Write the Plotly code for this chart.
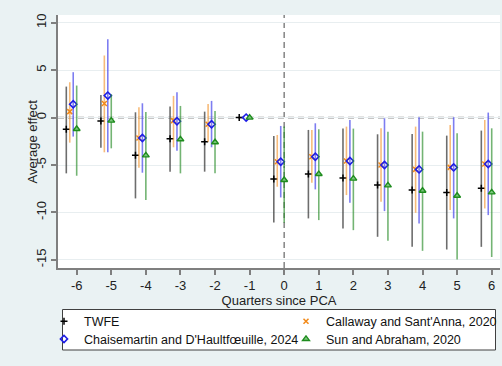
import plotly.graph_objects as go

# ---------------- data ----------------
periods = [-6, -5, -4, -3, -2, -1, 0, 1, 2, 3, 4, 5, 6]

twfe_est = [-1.23, -0.35, -3.98, -2.22, -2.54, 0.0, -6.48, -5.95, -6.37, -7.11, -7.64, -7.89, -7.46]
twfe_lo = [-5.88, -3.17, -8.52, -5.70, -5.70, 0.0, -11.06, -10.63, -11.69, -12.57, -13.63, -13.91, -13.63]
twfe_hi = [3.27, 2.39, 0.56, 1.16, 0.63, 0.0, -1.94, -1.30, -1.16, -1.76, -1.73, -1.90, -1.37]

cs_est = [0.63, 1.48, -2.15, -0.32, -0.70, None, -4.65, -4.12, -4.58, -5.00, -5.46, -5.25, -4.89]
cs_lo = [-2.64, -3.66, -5.28, -3.13, -2.54, None, -7.29, -6.87, -8.17, -8.87, -10.04, -9.75, -9.58]
cs_hi = [3.73, 6.55, 1.09, 2.29, 1.44, None, -1.83, -1.30, -0.95, -1.13, -0.95, -0.77, -0.25]

dcdh_est = [1.41, 2.32, -2.15, -0.39, -0.70, 0.0, -4.65, -4.12, -4.58, -5.00, -5.46, -5.25, -4.89]
dcdh_lo = [-2.00, -3.66, -5.81, -3.49, -3.13, 0.0, -8.42, -7.57, -8.98, -9.86, -11.16, -10.63, -10.28]
dcdh_hi = [4.79, 8.27, 1.51, 2.68, 1.76, 0.0, -0.88, -0.60, -0.25, -0.07, 0.04, 0.04, 0.53]

sa_est = [-1.20, -0.32, -3.98, -2.29, -2.60, 0.0, -6.58, -5.95, -6.44, -7.15, -7.71, -8.24, -7.89]
sa_lo = [-6.13, -3.24, -8.70, -5.88, -5.88, 0.0, -11.10, -10.81, -11.87, -12.99, -14.05, -14.97, -14.70]
sa_hi = [3.38, 2.46, 0.60, 1.23, 0.70, 0.0, -0.95, -1.23, -1.16, -1.48, -1.48, -1.65, -1.13]

x_ticks = [-6, -5, -4, -3, -2, -1, 0, 1, 2, 3, 4, 5, 6]
y_ticks = [-15, -10, -5, 0, 5, 10]

names = ["TWFE", "Callaway and Sant'Anna, 2020",
         "Chaisemartin and D'Haultfœuille, 2024", "Sun and Abraham, 2020"]

# ---------------- layout constants ----------------
W, H = 502, 366
ML, MR, MT, MB = 58, 2, 15, 98
PW, PH = W - ML - MR, H - MT - MB
FONT = "Liberation Sans, Arial, Helvetica, sans-serif"
BG = "#EAF2F3"
TXT = "#222222"


def px_x(px):
    return (px - ML) / PW


def px_y(py):
    return (H - MB - py) / PH


def err_plus(est, hi):
    return [(h - e) if (e is not None and h is not None) else 0 for e, h in zip(est, hi)]


def err_minus(est, lo):
    return [(e - l) if (e is not None and l is not None) else 0 for e, l in zip(est, lo)]


series = [
    dict(name=names[0], est=twfe_est, lo=twfe_lo, hi=twfe_hi, off=-0.3,
         marker=dict(symbol="cross-thin", size=5, color="black",
                     line=dict(color="black", width=1.5)),
         ci="rgba(60,60,60,0.75)", legend="legend"),
    dict(name=names[1], est=cs_est, lo=cs_lo, hi=cs_hi, off=-0.2,
         marker=dict(symbol="x-thin", size=5, color="#F28A1A",
                     line=dict(color="#F28A1A", width=1.5)),
         ci="rgba(242,150,50,0.65)", legend="legend2"),
    dict(name=names[2], est=dcdh_est, lo=dcdh_lo, hi=dcdh_hi, off=-0.1,
         marker=dict(symbol="diamond-open", size=5.5, color="#1E1EE6",
                     line=dict(color="#1E1EE6", width=1.6)),
         ci="rgba(70,70,235,0.7)", legend="legend3"),
    dict(name=names[3], est=sa_est, lo=sa_lo, hi=sa_hi, off=0.0,
         marker=dict(symbol="triangle-up", size=6, color="#7CC77C",
                     line=dict(color="#1E8C1E", width=1.4)),
         ci="rgba(40,140,40,0.65)", legend="legend4"),
]

fig = go.Figure()
for s in series:
    fig.add_trace(go.Scatter(
        x=[p + s["off"] for p in periods],
        y=s["est"],
        mode="markers",
        name=s["name"],
        marker=s["marker"],
        error_y=dict(type="data", symmetric=False,
                     array=err_plus(s["est"], s["hi"]),
                     arrayminus=err_minus(s["est"], s["lo"]),
                     color=s["ci"], thickness=1.6, width=0),
        legend=s["legend"],
        cliponaxis=False,
    ))

# reference lines
fig.add_shape(type="line", xref="paper", yref="y", x0=0, x1=1, y0=0, y1=0,
              line=dict(color="#8C8C8C", width=1.6, dash="6px,4px"), layer="below")
fig.add_shape(type="line", xref="x", yref="paper", x0=0, x1=0, y0=0, y1=1,
              line=dict(color="#8C8C8C", width=1.6, dash="6px,4px"), layer="below")

# legend box
fig.add_shape(type="rect", xref="paper", yref="paper",
              x0=px_x(62.5), x1=px_x(495.5), y0=px_y(350), y1=px_y(309.5),
              line=dict(color="#404040", width=1), fillcolor="white", layer="below")

# y-axis title placed as rotated text
fig.add_annotation(text="Average effect", xref="paper", yref="paper",
                   x=px_x(32), y=0.5, xanchor="center", yanchor="middle",
                   textangle=-90, showarrow=False,
                   font=dict(family=FONT, size=13, color=TXT))

leg_font = dict(family=FONT, size=12.5, color="#111111")
row1, row2 = 321.7, 339.3
col1, col2 = 64, 306  # marker centre (px)
leg_common = dict(bgcolor="rgba(0,0,0,0)", borderwidth=0, font=leg_font,
                  xanchor="left", yanchor="middle", itemwidth=30)

fig.update_layout(
    width=W, height=H,
    margin=dict(l=ML, r=MR, t=MT, b=MB, autoexpand=False),
    paper_bgcolor=BG, plot_bgcolor="white",
    font=dict(family=FONT, size=13, color=TXT),
    showlegend=True,
    legend=dict(x=px_x(col1 - 20), y=px_y(row1), **leg_common),
    legend2=dict(x=px_x(col2 - 20), y=px_y(row1), **leg_common),
    legend3=dict(x=px_x(col1 - 20), y=px_y(row2), **leg_common),
    legend4=dict(x=px_x(col2 - 20), y=px_y(row2), **leg_common),
    xaxis=dict(range=[-6.54, 6.24], tickvals=x_ticks,
               ticktext=[str(v) for v in x_ticks],
               showgrid=False, zeroline=False,
               showline=True, linecolor="#7F7F7F", linewidth=1.5,
               ticks="outside", ticklen=5, tickwidth=1.5, tickcolor="#7F7F7F",
               tickfont=dict(size=13, color=TXT),
               title=dict(text="Quarters since PCA", standoff=0,
                          font=dict(size=13, color=TXT))),
    yaxis=dict(range=[-15.86, 10.82], tickvals=y_ticks,
               ticktext=[str(v) for v in y_ticks], tickangle=-90,
               showgrid=True, gridcolor="#E8EEF0", gridwidth=1,
               zeroline=False,
               showline=True, linecolor="#7F7F7F", linewidth=1.5,
               ticks="outside", ticklen=5, tickwidth=1.5, tickcolor="#7F7F7F",
               tickfont=dict(size=13, color=TXT)),
)

fig.write_html("out.html")
